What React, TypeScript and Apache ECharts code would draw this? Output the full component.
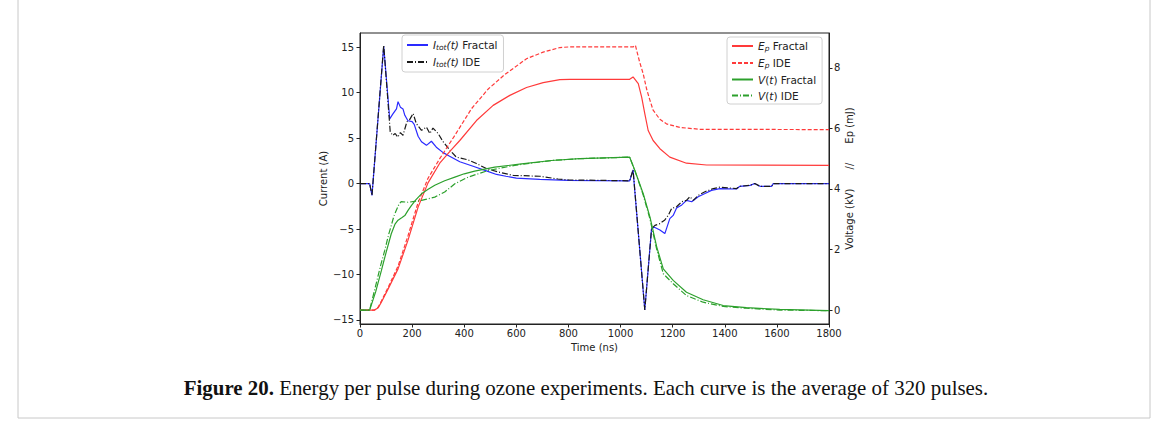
import React, { useEffect, useRef } from "react";
import * as echarts from "echarts";

// ---- Data ----
const tCurFrac = [0, 37, 46, 91, 114, 125, 140, 146, 155, 165, 172, 184, 200, 208, 223, 236, 255, 274, 293, 319, 344, 383, 434, 485, 524, 560, 600, 690, 800, 1035, 1048, 1093, 1119, 1130, 1151, 1170, 1189, 1202, 1215, 1235, 1253, 1273, 1298, 1324, 1349, 1381, 1445, 1458, 1497, 1515, 1535, 1580, 1586, 1800];
const iCurFrac = [0, 0, -1.3, 15.1, 7.1, 7.6, 8.2, 9.0, 8.4, 8.2, 7.5, 6.9, 6.8, 6.5, 5.2, 4.6, 4.2, 4.65, 4.0, 3.4, 3.0, 2.4, 1.9, 1.4, 1.0, 0.8, 0.6, 0.45, 0.35, 0.3, 1.5, -13.9, -4.95, -4.8, -5.1, -5.5, -3.85, -3.5, -2.7, -2.35, -1.85, -2.0, -1.45, -1.1, -0.75, -0.55, -0.6, -0.3, -0.2, 0.0, -0.3, -0.3, 0, 0];

const tCurIde = [0, 37, 46, 91, 116, 125, 135, 145, 155, 165, 180, 190, 204, 216, 236, 255, 268, 280, 300, 319, 344, 370, 415, 447, 485, 530, 588, 690, 760, 800, 1035, 1048, 1093, 1119, 1132, 1151, 1170, 1183, 1196, 1215, 1235, 1253, 1266, 1279, 1298, 1324, 1356, 1381, 1445, 1458, 1497, 1515, 1535, 1580, 1586, 1800];
const iCurIde = [0, 0, -1.3, 15.2, 5.7, 5.3, 5.5, 5.1, 5.6, 5.3, 6.8, 7.0, 7.7, 6.6, 5.85, 6.2, 5.5, 6.1, 5.5, 4.6, 3.7, 2.9, 2.6, 2.2, 1.65, 1.27, 0.9, 0.8, 0.5, 0.4, 0.3, 1.5, -13.9, -4.95, -4.6, -4.4, -4.0, -3.5, -2.75, -2.55, -2.0, -1.85, -1.45, -1.85, -1.3, -0.9, -0.55, -0.4, -0.55, -0.3, -0.2, 0, -0.3, -0.3, 0, 0];

const tEpFrac = [0, 56, 70, 82, 108, 146, 184, 223, 261, 306, 351, 383, 447, 511, 575, 639, 703, 767, 805, 1035, 1048, 1068, 1081, 1093, 1106, 1125, 1151, 1189, 1253, 1330, 1800];
const epFrac = [0, 0, 0.08, 0.26, 0.7, 1.36, 2.3, 3.4, 4.2, 4.85, 5.3, 5.6, 6.26, 6.76, 7.09, 7.35, 7.51, 7.61, 7.62, 7.62, 7.7, 7.48, 7.03, 6.49, 5.93, 5.6, 5.33, 5.05, 4.85, 4.79, 4.78];

const tEpIde = [0, 56, 70, 82, 108, 146, 184, 223, 261, 306, 364, 428, 492, 556, 639, 703, 767, 805, 1048, 1057, 1073, 1087, 1100, 1112, 1125, 1138, 1151, 1176, 1228, 1305, 1800];
const epIde = [0, 0, 0.1, 0.3, 0.75, 1.45, 2.45, 3.55, 4.35, 5.0, 5.77, 6.65, 7.3, 7.78, 8.3, 8.52, 8.67, 8.69, 8.69, 8.74, 8.2, 7.8, 7.3, 6.95, 6.6, 6.45, 6.3, 6.15, 6.03, 5.97, 5.96];

const tVFrac = [0, 37, 60, 82, 100, 120, 135, 146, 160, 172, 185, 197, 215, 236, 260, 287, 325, 364, 400, 440, 517, 620, 735, 843, 1035, 1055, 1087, 1113, 1139, 1164, 1202, 1253, 1317, 1394, 1483, 1611, 1800];
const vFrac = [0, 0, 0.6, 1.3, 1.9, 2.52, 2.85, 2.97, 3.05, 3.12, 3.3, 3.45, 3.65, 3.84, 3.98, 4.12, 4.27, 4.39, 4.5, 4.59, 4.72, 4.83, 4.94, 5.0, 5.05, 4.61, 3.84, 3.07, 2.08, 1.36, 0.98, 0.59, 0.34, 0.15, 0.08, 0.02, -0.02];

const tVIde = [0, 37, 60, 80, 95, 110, 120, 130, 139, 150, 158, 184, 236, 287, 325, 364, 415, 492, 594, 735, 843, 1035, 1055, 1087, 1113, 1139, 1164, 1202, 1253, 1317, 1394, 1483, 1611, 1800];
const vIde = [0, 0, 0.8, 1.5, 1.97, 2.5, 2.79, 3.1, 3.29, 3.5, 3.58, 3.56, 3.62, 3.73, 3.9, 4.17, 4.39, 4.61, 4.78, 4.94, 5.0, 5.05, 4.6, 3.8, 3.0, 2.0, 1.2, 0.87, 0.48, 0.26, 0.12, 0.06, 0.0, -0.02];

const leftTicks = [-15, -10, -5, 0, 5, 10, 15];
const rightTicks = [0, 2, 4, 6, 8];

const seriesNames = ["Itot Fractal", "Itot IDE", "Ep Fractal", "Ep IDE", "V Fractal", "V IDE"];
const legendLabels: Record<string, string> = {
  "Itot Fractal": "{i|I}{s|tot}{i|(t)}{n| Fractal}",
  "Itot IDE": "{i|I}{s|tot}{i|(t)}{n| IDE}",
  "Ep Fractal": "{i|E}{s|p}{n| Fractal}",
  "Ep IDE": "{i|E}{s|p}{n| IDE}",
  "V Fractal": "{i|V}{n|(}{i|t}{n|) Fractal}",
  "V IDE": "{i|V}{n|(}{i|t}{n|) IDE}",
};

const zip = (ts: number[], vs: number[]) => ts.map((t, k) => [t, vs[k]]);
const minus = (v: number) => String(v).replace("-", "\u2212");

const FONT = "DejaVu Sans";
const dashDot = [6, 2, 1, 2];
const dashed = [4, 2];

export default function App() {
  const ref = useRef<HTMLDivElement>(null);
  useEffect(() => {
    if (!ref.current) return;
    const chart = echarts.init(ref.current, undefined, { renderer: "svg" });
    const rich = {
      i: { fontStyle: "italic", fontSize: 10.5, fontFamily: FONT, color: "#222", lineHeight: 12 },
      s: { fontStyle: "italic", fontSize: 7.5, fontFamily: FONT, color: "#222", lineHeight: 12, verticalAlign: "bottom", padding: [4, 0, 0, 0] },
      n: { fontSize: 10.5, fontFamily: FONT, color: "#222", lineHeight: 12 },
    };
    const legendCommon = {
      orient: "vertical",
      itemWidth: 21,
      itemHeight: 12,
      itemGap: 5,
      backgroundColor: "rgba(255,255,255,0.85)",
      borderColor: "#d0d0d0",
      borderWidth: 1,
      borderRadius: 3,
      itemStyle: { opacity: 0 },
      formatter: (name: string) => legendLabels[name],
      textStyle: { fontFamily: FONT, fontSize: 10.5, color: "#222", rich },
    };
    const axisLabelStyle = { fontFamily: FONT, fontSize: 10, color: "#222" };
    chart.setOption({
      animation: false,
      grid: { left: 360, right: 339, top: 33, bottom: 101, show: true, borderColor: "#222", borderWidth: 1, backgroundColor: "transparent" },
      legend: [
        { ...legendCommon, data: seriesNames.slice(0, 2), left: 402, top: 35, padding: [4, 6, 4, 4] },
        { ...legendCommon, data: seriesNames.slice(2), left: 727, top: 37, padding: [3, 6, 3, 4] },
      ],
      xAxis: {
        type: "value",
        min: 0,
        max: 1800,
        interval: 200,
        name: "Time (ns)",
        nameLocation: "middle",
        nameGap: 13,
        nameTextStyle: axisLabelStyle,
        axisLine: { show: true, onZero: false, lineStyle: { color: "#222" } },
        axisTick: { show: true, length: 3.5, lineStyle: { color: "#222" } },
        axisLabel: { ...axisLabelStyle, margin: 4, formatter: (v: number) => String(v) },
        splitLine: { show: false },
      },
      yAxis: [
        {
          type: "value",
          min: -15.44,
          max: 16.55,
          name: "Current (A)",
          nameLocation: "middle",
          nameGap: 25,
          nameTextStyle: axisLabelStyle,
          axisLine: { show: true, onZero: false, lineStyle: { color: "#222" } },
          axisTick: { show: true, length: 3.5, customValues: leftTicks, lineStyle: { color: "#222" } },
          axisLabel: { ...axisLabelStyle, margin: 6, customValues: leftTicks, formatter: (v: number) => minus(v) },
          splitLine: { show: false },
        },
        {
          type: "value",
          position: "right",
          min: -0.46,
          max: 9.15,
          name: "Voltage (kV)      //      Ep (mJ)",
          nameLocation: "middle",
          nameGap: 14,
          nameTextStyle: axisLabelStyle,
          axisLine: { show: true, onZero: false, lineStyle: { color: "#222" } },
          axisTick: { show: true, length: 3.5, customValues: rightTicks, lineStyle: { color: "#222" } },
          axisLabel: { ...axisLabelStyle, margin: 5, customValues: rightTicks, formatter: (v: number) => minus(v) },
          splitLine: { show: false },
        },
      ],
      series: [
        { name: "Itot Fractal", type: "line", yAxisIndex: 0, showSymbol: false, symbol: "none", data: zip(tCurFrac, iCurFrac), lineStyle: { color: "#2a2aff", width: 1.2 }, itemStyle: { color: "#2a2aff" } },
        { name: "Itot IDE", type: "line", yAxisIndex: 0, showSymbol: false, symbol: "none", data: zip(tCurIde, iCurIde), lineStyle: { color: "#1a1a1a", width: 1.2, type: dashDot }, itemStyle: { color: "#1a1a1a" } },
        { name: "Ep Fractal", type: "line", yAxisIndex: 1, showSymbol: false, symbol: "none", data: zip(tEpFrac, epFrac), lineStyle: { color: "#ff3a3a", width: 1.2 }, itemStyle: { color: "#ff3a3a" } },
        { name: "Ep IDE", type: "line", yAxisIndex: 1, showSymbol: false, symbol: "none", data: zip(tEpIde, epIde), lineStyle: { color: "#ff3a3a", width: 1.2, type: dashed }, itemStyle: { color: "#ff3a3a" } },
        { name: "V Fractal", type: "line", yAxisIndex: 1, showSymbol: false, symbol: "none", data: zip(tVFrac, vFrac), lineStyle: { color: "#2ca02c", width: 1.2 }, itemStyle: { color: "#2ca02c" } },
        { name: "V IDE", type: "line", yAxisIndex: 1, showSymbol: false, symbol: "none", data: zip(tVIde, vIde), lineStyle: { color: "#2ca02c", width: 1.2, type: dashDot }, itemStyle: { color: "#2ca02c" } },
      ],
      graphic: [
        { type: "rect", shape: { x: 18, y: -2, width: 1132, height: 420 }, style: { fill: "none", stroke: "#c8c8c8", lineWidth: 1 }, silent: true },
        {
          type: "text",
          x: 586,
          y: 388,
          style: {
            text: "{b|Figure 20.} Energy per pulse during ozone experiments. Each curve is the average of 320 pulses.",
            align: "center",
            verticalAlign: "middle",
            fontFamily: "Liberation Serif",
            fontSize: 20.9,
            fill: "#111",
            rich: { b: { fontWeight: "bold", fontFamily: "Liberation Serif", fontSize: 20.9, fill: "#111" } },
          },
        },
      ],
    });
    return () => chart.dispose();
  }, []);
  return <div ref={ref} style={{ position: "fixed", left: 0, top: 0, width: 1168, height: 425, background: "#fff" }} />;
}
